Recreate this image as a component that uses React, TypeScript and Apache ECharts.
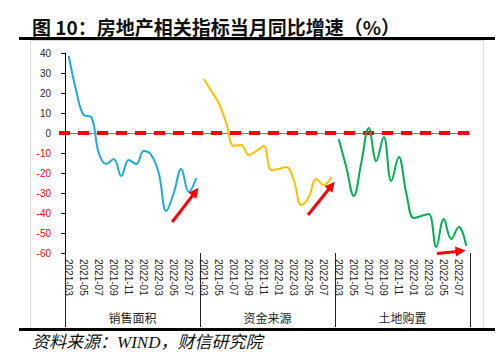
import { useEffect, useRef } from "react";
import * as echarts from "echarts";

const months = [
  "2021-03", "2021-04", "2021-05", "2021-06", "2021-07", "2021-08",
  "2021-09", "2021-10", "2021-11", "2021-12", "2022-01", "2022-02",
  "2022-03", "2022-04", "2022-05", "2022-06", "2022-07", "2022-08",
];
const groups = ["销售面积", "资金来源", "土地购置"];
const yTicks = { min: -60, max: 40, interval: 10 };

const salesArea = [38.5, 21, 9, 8, -10, -15.5, -13, -21.5, -13.5, -15.5, -9, -11, -20, -39, -30, -18, -29.5, -22.5];
const fundSource = [27, 21, 15, 5, -6.5, -6, -11, -9, -6.5, -18.5, -18, -17, -23.5, -36, -32, -23, -26, -22];
const landPurchase = [-3, -17, -31.5, -15, 2.5, -14, -2, -24, -12, -30, -42.5, -41.5, -40.5, -57, -43, -53, -47, -56.5];

// annotation arrows in data space: [categoryIndex (fractional), value]
const arrowTails = [[13.8, -44.5], [31.9, -41], [49.1, -60.2]];
const arrowTips = [[17.3, -27.4], [35.46, -24.4], [52.9, -58.8]];

const seriesColors = ["#1AAAE4", "#FFC000", "#00B050"];

export default function App() {
  const ref = useRef<HTMLDivElement>(null);

  useEffect(() => {
    if (!ref.current) return;
    const chart = echarts.init(ref.current, null, { renderer: "svg" });
    const categories = groups.flatMap((g) => months.map((m) => g + "|" + m));
    const n = months.length;
    const pad = (vals: number[], gi: number) =>
      categories.map((_, i) => (Math.floor(i / n) === gi ? vals[i % n] : null));
    const allSeries = [salesArea, fundSource, landPurchase];

    const font = "'Liberation Sans', 'Noto Sans CJK SC', sans-serif";

    chart.setOption({
      animation: false,
      grid: { left: 65, right: 30, top: 53, bottom: 108 },
      xAxis: [
        {
          type: "category",
          data: categories,
          position: "bottom",
          boundaryGap: true,
          axisLine: { show: false },
          axisTick: { show: false },
          axisLabel: {
            rotate: -90,
            margin: 6,
            fontSize: 10,
            fontFamily: font,
            color: "#262626",
            interval: (index: number) => {
              const k = index % n;
              return k % 2 === 0 && k <= 16;
            },
            formatter: (v: string) => v.split("|")[1],
          },
          splitLine: { show: false },
        },
        {
          type: "category",
          data: groups,
          position: "bottom",
          boundaryGap: true,
          axisLine: { show: false },
          axisTick: { show: true, length: 74, lineStyle: { color: "#262626", width: 1 } },
          axisLabel: { interval: 0, margin: 60, fontSize: 12, fontFamily: font, color: "#262626" },
          splitLine: { show: false },
        },
      ],
      yAxis: {
        type: "value",
        min: yTicks.min,
        max: yTicks.max,
        interval: yTicks.interval,
        axisLine: { show: true, lineStyle: { color: "#000", width: 1 } },
        axisTick: { show: true, length: 4, lineStyle: { color: "#000" } },
        splitLine: { show: false },
        axisLabel: {
          margin: 14,
          fontSize: 10,
          fontFamily: font,
          color: (v: any) => (Number(v) < 0 ? "#FF0000" : "#262626"),
        },
      },
      series: allSeries.map((vals, gi) => ({
        type: "line",
        xAxisIndex: 0,
        data: pad(vals, gi),
        smooth: 0.4,
        showSymbol: false,
        connectNulls: false,
        lineStyle: { color: seriesColors[gi], width: 2 },
        itemStyle: { color: seriesColors[gi] },
        z: 3,
      })),
    });

    const px0 = chart.convertToPixel({ xAxisIndex: 0 }, categories[0]) as number;
    const px1 = chart.convertToPixel({ xAxisIndex: 0 }, categories[1]) as number;
    const step = px1 - px0;
    const xAt = (f: number) => px0 + f * step;
    const yAt = (v: number) => chart.convertToPixel({ yAxisIndex: 0 }, v) as number;
    const y0 = yAt(0);
    const xEnd = xAt(categories.length - 0.5);

    const graphics: any[] = [
      {
        type: "rect",
        shape: { x: 30.5, y: 40.5, width: 453, height: 288 },
        style: { fill: "none", stroke: "#D9D9D9", lineWidth: 1 },
        silent: true,
        z: 0,
      },
      {
        type: "line",
        shape: { x1: 19, y1: 38.5, x2: 495, y2: 38.5 },
        style: { stroke: "#000", lineWidth: 3 },
        z: 10,
      },
      {
        type: "line",
        shape: { x1: 19, y1: 329.5, x2: 495, y2: 329.5 },
        style: { stroke: "#000", lineWidth: 3 },
        z: 10,
      },
      {
        type: "text",
        x: 32,
        y: 26,
        style: {
          text: "图 10：房地产相关指标当月同比增速（%）",
          font: "bold 19px 'Noto Sans CJK SC', sans-serif",
          fill: "#111",
          verticalAlign: "middle",
          align: "left",
        },
        z: 10,
      },
      {
        type: "text",
        x: 32,
        y: 342,
        style: {
          text: "资料来源：WIND，财信研究院",
          font: "italic 17px 'Liberation Serif', 'Noto Sans CJK SC', serif",
          fill: "#111",
          verticalAlign: "middle",
          align: "left",
        },
        z: 10,
      },
      {
        type: "line",
        shape: { x1: 65, y1: Math.round(y0) + 0.5, x2: xEnd, y2: Math.round(y0) + 0.5 },
        style: { stroke: "#7F7F7F", lineWidth: 1 },
        z: 1,
      },
      {
        type: "line",
        shape: { x1: 59, y1: y0, x2: xEnd, y2: y0 },
        style: { stroke: "#FF0000", lineWidth: 4, lineDash: [11, 8] },
        z: 2,
      },
    ];

    arrowTails.forEach((t, i) => {
      const tip = arrowTips[i];
      const x1 = xAt(t[0]);
      const y1 = yAt(t[1]);
      const x2 = xAt(tip[0]);
      const y2 = yAt(tip[1]);
      const dx = x2 - x1;
      const dy = y2 - y1;
      const len = Math.sqrt(dx * dx + dy * dy);
      const ux = dx / len;
      const uy = dy / len;
      const L = 10;
      const W = 5;
      const bx = x2 - ux * L;
      const by = y2 - uy * L;
      graphics.push({
        type: "line",
        shape: { x1, y1, x2: bx + ux * 2, y2: by + uy * 2 },
        style: { stroke: "#FF0000", lineWidth: 3 },
        z: 5,
      });
      graphics.push({
        type: "polygon",
        shape: {
          points: [
            [x2, y2],
            [bx - uy * W, by + ux * W],
            [bx + uy * W, by - ux * W],
          ],
        },
        style: { fill: "#FF0000" },
        z: 5,
      });
    });

    chart.setOption({ graphic: graphics });

    return () => chart.dispose();
  }, []);

  return (
    <div
      ref={ref}
      style={{ position: "absolute", left: 0, top: 0, width: 500, height: 361, background: "#fff" }}
    />
  );
}
